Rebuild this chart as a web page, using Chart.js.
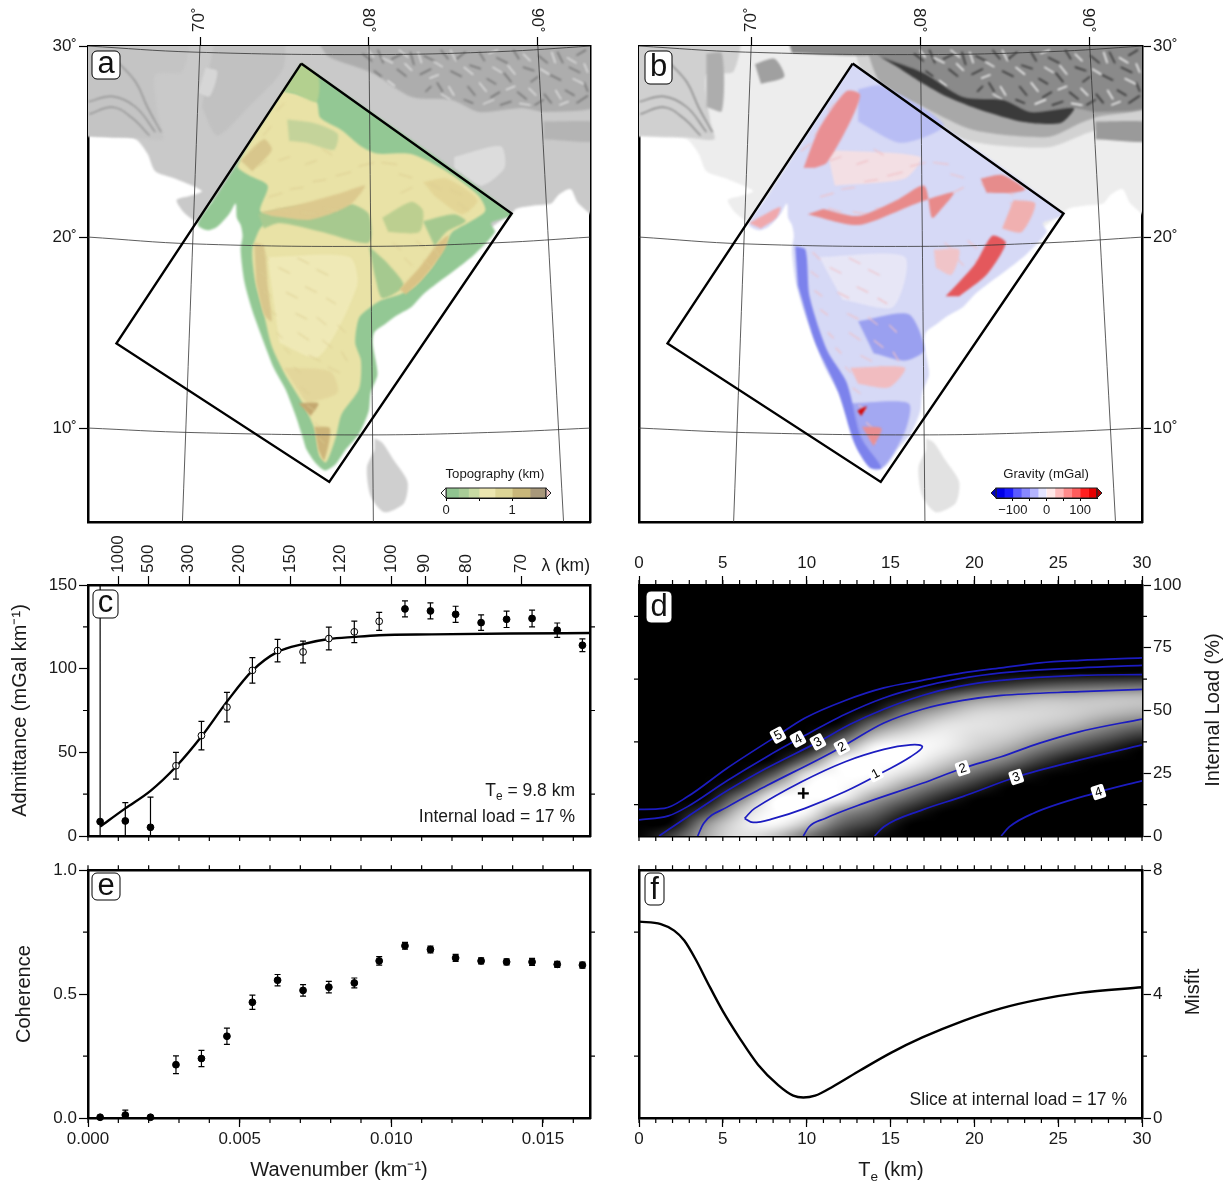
<!DOCTYPE html>
<html>
<head>
<meta charset="utf-8">
<title>India admittance</title>
<script src="https://cdn.jsdelivr.net/npm/chart.js@4"></script>
<style>
  html, body { margin: 0; background: #fff; }
  #page { position: relative; width: 1223px; height: 1186px; overflow: hidden; }
  canvas { position: absolute; }
</style>
</head>
<body>
<div id="page"></div>
<script>
// ---- spectra (panels c, e) ----
const wavenumber = [0.0004, 0.00123, 0.00206, 0.0029, 0.00374, 0.00458, 0.00542, 0.00625, 0.00709, 0.00794, 0.00878, 0.0096, 0.01045, 0.01129, 0.01212, 0.01296, 0.0138, 0.01464, 0.01547, 0.0163];
const admittance = [8.6, 9, 5.2, 42, 60, 77, 99, 110.8, 110, 118, 122, 128.3, 135.7, 134.5, 132.5, 127.5, 129.5, 130, 123, 114];
const admittanceErr = [200, 11, 18, 8, 8.5, 8.8, 7.6, 6.7, 6.5, 6.8, 6.4, 5.4, 4.8, 4.8, 4.8, 4.6, 4.9, 5, 4.3, 3.8];
const isFitted = [0, 0, 0, 1, 1, 1, 1, 1, 1, 1, 1, 1, 0, 0, 0, 0, 0, 0, 0, 0];
const coherence = [0.003, 0.012, 0.003, 0.215, 0.24, 0.33, 0.467, 0.556, 0.515, 0.528, 0.545, 0.634, 0.695, 0.68, 0.646, 0.634, 0.63, 0.63, 0.62, 0.617];
const coherenceErr = [0, 0.02, 0, 0.036, 0.033, 0.033, 0.029, 0.023, 0.023, 0.023, 0.02, 0.017, 0.014, 0.014, 0.014, 0.012, 0.012, 0.014, 0.012, 0.012];
const fitK = [0.0004, 0.00123, 0.00206, 0.0029, 0.00374, 0.00458, 0.00542, 0.00625, 0.00709, 0.00794, 0.00878, 0.0096, 0.01134, 0.01394, 0.0167];
const fitAdm = [5.6, 16.5, 27, 41.4, 59.4, 80.3, 98.8, 110, 114.7, 117.7, 119, 120, 120.5, 121, 121.3];
const lambdaTicks = [1000, 500, 300, 200, 150, 120, 100, 90, 80, 70];

// ---- misfit (panels d, f) ----
const gridTe = [0, 2, 4, 6, 8, 10, 12, 14, 16, 18, 20, 22, 24, 26, 28, 30];
const gridLoad = [0, 5, 10, 15, 20, 25, 30, 35, 40, 45, 50, 55, 60, 65, 70];
// one column per gridTe, one value per gridLoad
const misfitGrid = [
  [3.5, 4, 5, 6, 6, 6, 6, 6, 6, 6, 6, 6, 6, 6, 6],
  [2.6, 3.2, 4.3, 5, 6, 6, 6, 6, 6, 6, 6, 6, 6, 6, 6],
  [1.8, 2, 2.67, 3.6, 4.8, 6, 6, 6, 6, 6, 6, 6, 6, 6, 6],
  [1.4, 1.4, 1.6, 2.15, 2.85, 3.8, 5, 6, 6, 6, 6, 6, 6, 6, 6],
  [1.6, 1.1, 0.8, 1.1, 1.8, 2.55, 3.3, 4.3, 6, 6, 6, 6, 6, 6, 6],
  [2.2, 1.6, 1.05, 0.7, 0.8, 1.4, 2.3, 3, 3.85, 4.7, 6, 6, 6, 6, 6],
  [2.7, 2.35, 1.95, 1.25, 0.85, 0.75, 1.15, 1.95, 2.6, 3.3, 4.2, 6, 6, 6, 6],
  [3, 2.65, 2.3, 1.9, 1.4, 0.95, 0.9, 1.15, 1.7, 2.3, 3, 4, 6, 6, 6],
  [3.6, 3.25, 2.8, 2.35, 1.9, 1.45, 1.05, 1.05, 1.4, 1.8, 2.25, 2.95, 4.5, 6, 6],
  [4, 3.6, 3.25, 2.8, 2.35, 1.85, 1.5, 1.3, 1.3, 1.45, 1.85, 2.4, 3.4, 6, 6],
  [4.2, 4, 3.6, 3.2, 2.75, 2.3, 1.85, 1.55, 1.45, 1.4, 1.55, 2, 2.85, 4.6, 6],
  [4.1, 3.85, 3.65, 3.35, 3.1, 2.7, 2.2, 1.8, 1.55, 1.45, 1.5, 1.85, 2.65, 4, 6],
  [4.6, 4.4, 4.05, 3.75, 3.4, 3.05, 2.65, 2.2, 1.8, 1.55, 1.5, 1.7, 2.5, 3.7, 6],
  [5, 4.7, 4.3, 4, 3.65, 3.3, 3, 2.55, 2.1, 1.7, 1.55, 1.7, 2.4, 3.3, 5],
  [5.2, 5, 4.6, 4.25, 3.95, 3.55, 3.2, 2.85, 2.4, 2, 1.65, 1.65, 2.35, 3.2, 5],
  [5.4, 5.2, 4.8, 4.5, 4.2, 3.8, 3.45, 3.1, 2.7, 2.2, 1.75, 1.65, 2.3, 3.1, 4.8]
];
const contour1 = [[6.3, 7], [6.9, 11], [9.7, 21.6], [12.3, 29.6], [14.6, 34.5], [16.2, 36.3], [16.9, 35.6], [16.2, 31.6], [14.6, 25.6], [12.3, 17.7], [9.9, 11], [8.05, 7], [6.8, 5.4], [6.3, 7]];
const contour2Upper = [[3.5, 0], [3.85, 5], [5.25, 11.5], [7.6, 20], [10.7, 30.5], [12.1, 35.5], [14.6, 45], [16.9, 50.5], [19.3, 54], [21.6, 56], [26.3, 57.5], [30, 58.4]];
const contour2Lower = [[9.8, 0], [10.15, 3.7], [11.1, 7], [13.4, 13], [16.9, 21], [19.3, 27], [21.6, 31.6], [23.9, 37], [26.3, 41.6], [30, 46.6]];
const contour3Upper = [[1.2, 0], [2.9, 7.7], [5.25, 18], [7.6, 27], [10.7, 37.5], [12.6, 44.5], [14.6, 50.5], [16.9, 56], [19, 59.5], [21.6, 62], [26.3, 64], [30, 64.3]];
const contour3Lower = [[14.05, 0], [14.6, 3.7], [16.9, 10.4], [19.3, 15.7], [22.5, 23.5], [26.3, 30.3], [30, 36.3]];
const contour4Upper = [[0, 6.4], [1.75, 8], [2.9, 11.7], [5.25, 22], [7.6, 31.5], [9.5, 38.6], [12.3, 48.5], [14.6, 55], [16.9, 59.5], [19, 62.5], [21.6, 65], [26.3, 67], [30, 68]];
const contour4Lower = [[21.6, 0], [22.1, 3.7], [23.5, 9], [27.4, 17.5], [30, 22]];
const contour5 = [[0, 10.6], [1.5, 11], [2.9, 15.7], [5.25, 27], [8.3, 40.2], [9.9, 47], [12.3, 54], [14.6, 59], [16.9, 62], [19.3, 65], [21.6, 67], [23.9, 69], [26.3, 70], [30, 71]];
const contourLabels = [
  { te: 8.29, load: 40.2, text: '5', angle: 28 }, { te: 9.48, load: 38.6, text: '4', angle: 28 },
  { te: 10.67, load: 37.5, text: '3', angle: 28 }, { te: 12.1, load: 35.5, text: '2', angle: 28 },
  { te: 14.1, load: 24.8, text: '1', angle: 28 }, { te: 19.3, load: 27, text: '2', angle: 18 },
  { te: 22.5, load: 23.5, text: '3', angle: 18 }, { te: 27.4, load: 17.5, text: '4', angle: 18 }
];
const sliceTe = [0, 1.3, 2.1, 2.7, 3.4, 4.1, 5, 6, 7.1, 8.3, 9.2, 9.8, 10.5, 11.55, 13.2, 15.05, 16.9, 19.3, 21.6, 23.9, 26.3, 30];
const sliceMisfit = [6.34, 6.26, 6.05, 5.73, 5.1, 4.36, 3.45, 2.58, 1.72, 1.06, 0.72, 0.66, 0.72, 1.01, 1.54, 2.11, 2.6, 3.13, 3.54, 3.83, 4.04, 4.22];

// ---- map lines, lon/lat ----
const studyBox = [[76.19, 29.08], [87.21, 21.23], [77.66, 7.18], [66.52, 14.43], [76.19, 29.08]];
const parallels = [
  [[65, 30], [70.58, 29.68], [79.73, 29.55], [86.44, 29.7], [91.4, 30]],
  [[65, 20], [70.58, 19.64], [79.73, 19.51], [86.44, 19.7], [91.4, 20]],
  [[65, 10], [70.58, 9.76], [79.73, 9.64], [86.44, 9.78], [91.4, 10]]
];
const meridians = [
  [[70.89, 30], [69.97, 5]], [[79.74, 30], [79.97, 5]], [[88.58, 30], [89.93, 5]]
];
const landOutline = [[64, 31], [92, 31], [92, 20.91], [90.7, 21.76], [90.3, 22.5], [89.69, 22.22], [89.28, 21.76], [88.47, 21.66], [87.45, 21.48], [87.21, 21.23], [80.75, 17.46], [74.65, 23.06], [71.4, 21.76], [70.89, 20.73], [70.38, 21.01], [69.97, 21.38], [69.67, 21.94], [70.28, 22.13], [70.99, 22.41], [69.57, 23.06], [68.55, 23.44], [68.14, 24.37], [67.53, 25.12], [66.52, 25.21], [64, 25.31]];
const sriLanka = [[80.03, 9.46], [80.44, 9.23], [81.05, 8.3], [81.76, 7.18], [81.56, 6.05], [80.54, 5.59], [79.83, 6.43], [79.63, 7.92], [80.03, 8.86]];
const himalaya = [[77.2, 31], [92, 31], [92, 27], [89, 26.54], [87.75, 26.75], [85.5, 26.54], [84.09, 27.17], [81.99, 27.33], [79.9, 28.59], [77.65, 29.42], [77.2, 30]];
const westRanges = [[64, 31], [70.18, 31], [69.97, 28.67], [68.55, 28.48], [68.75, 26.05], [68.96, 25.12], [67.53, 25.21], [64, 25.31]];
const westTrough = [[68.55, 29.6], [69.36, 29.6], [69.36, 26.6], [68.55, 26.8]];
const shillong = [[88.88, 26.05], [92, 25.96], [92, 25.03], [88.88, 25.12]];
const assamPale = [[84.2, 24.19], [86.64, 24.75], [86.84, 23.62], [85.62, 22.69], [84.2, 23.62]];
const tharPale = [[71.19, 28.86], [71.8, 28.67], [71.4, 27.36], [70.79, 27.55]];
const punjabPlain = [[71.8, 31], [75.05, 31], [75.26, 28.86], [73.43, 26.8], [71.8, 25.31], [70.99, 26.8]];
const foldArcs = [
  [[65.05, 27.08], [66.3, 27.36], [67.53, 26.8], [68.55, 25.49]],
  [[65.1, 26.43], [66.3, 26.8], [67.33, 26.24], [68.25, 25.31]],
  [[66.52, 29.23], [67.53, 28.11], [68.14, 26.8], [68.86, 25.49]]
];
// short ridge marks on the high ground, lon1 lat1 lon2 lat2
const ridgeDark = [[79.4,29.6,79.9,29.2],[80.2,29.8,80.5,29.1],[80.9,29.3,81.5,29.6],[81.2,28.8,81.7,28.4],[81.9,29.7,82.1,29],[82.4,28.5,83,28.8],[82.6,29.5,83.2,29.2],[83.3,28.1,83.6,27.6],[83.5,29.8,83.9,29.3],[84,28.7,84.6,28.4],[84.3,29.3,84.8,29.7],[84.9,27.9,85.3,27.4],[85,29,85.6,28.8],[85.5,29.7,85.8,29.2],[85.9,28.3,86.4,28],[86.1,27.3,86.6,27.6],[86.4,29.4,87,29.1],[86.8,28.6,87.2,28.1],[87.3,29.8,87.6,29.3],[87.5,27.6,88,27.2],[87.8,28.9,88.4,28.7],[88.2,28.1,88.6,28.4],[88.6,29.5,89.1,29.1],[88.9,27.5,89.3,27],[89.2,28.5,89.8,28.2],[89.6,29.7,89.9,29.1],[90,27.7,90.5,27.4],[90.2,28.9,90.8,28.6],[90.6,29.5,91.1,29.8],[91,28.1,91.2,27.6],[83,27.9,82.7,27.6],[84.7,27.2,85.2,27],[86.6,26.9,87.2,27.1],[88.4,26.9,88.9,27.2],[90.6,27,91.2,27.4],[80,28.7,80.4,28.4]];
const ridgeLight = [[79.7,29.8,80,29.4],[80.4,29.4,81,29.1],[81.6,29.1,82,28.7],[81.3,29.8,81.8,29.4],[82.3,29.7,82.5,29.1],[82.9,28.3,83.4,28.5],[83.1,29.2,83.6,28.9],[83.9,27.9,84.2,27.4],[84,29.8,84.3,29.2],[84.7,28.9,85.2,28.5],[85.5,28.1,85.9,27.6],[86,29.6,86.5,29.8],[86.2,28.9,86.7,28.6],[86.9,27.7,87.4,27.9],[87,29,87.4,28.5],[87.8,29.6,88.2,29.2],[88.1,27.8,88.5,27.4],[88.7,28.8,89.2,28.5],[89.3,29.7,89.5,29.1],[89.5,27.7,89.8,27.2],[90.1,29.4,90.6,29.1],[90.4,28.3,91,28],[91,29.1,91.2,28.6],[85.7,26.95,86.3,27.2],[87.6,27,88.2,26.9],[89.7,26.9,90.2,27.1],[80.7,28.2,81.1,27.9],[83.5,27.5,84,27.2]];
// relief marks inside the study box
const reliefMarks = [[74.1,19.2,74.5,18.8],[74,18.2,74.4,17.9],[74.2,17.2,74.6,16.9],[74.5,16.2,74.9,15.9],[74.9,15,75.2,14.7],[75.3,14.2,75.6,13.9],[75.8,13.2,76.1,12.9],[76.2,12.1,76.6,11.8],[76.5,11.2,76.9,10.9],[76.9,10.3,77.2,10],[77.1,9.5,77.4,9.2],[75,18.4,75.6,18.1],[76,18.9,76.6,18.6],[77,18.3,77.6,18],[75.4,17.1,76,16.8],[76.4,17.4,77,17.1],[77.5,16.8,78,16.5],[75.9,16,76.5,15.7],[77,15.8,77.5,15.4],[76,15,76.6,14.6],[77.3,14.6,77.8,14.2],[78.1,15.4,78.5,15],[78.3,14,78.6,13.5],[76.6,13.8,77.2,13.5],[77.6,13.2,78.2,12.9],[74.5,22.1,75.2,22.3],[75.6,22.5,76.3,22.6],[76.8,22.9,77.5,23],[78,23.2,78.8,23.4],[79.2,23.7,80,23.9],[80.4,23.9,81.2,23.8],[74.9,21.5,75.6,21.3],[76.2,21.3,77,21.2],[77.4,21.5,78.1,21.4],[81,19.7,81.4,19.3],[81.6,18.9,82,18.5],[82.2,19.8,82.7,19.4],[82.6,18.8,83,18.4],[83.1,19.5,83.4,19],[81.4,22.3,82,22.6],[81.3,23.3,82,23.1],[82.9,22.8,83.5,22.5],[84,22.5,84.6,22.2],[84.4,21.8,84.9,21.4],[73.5,24.5,74,24.9],[74.2,25.3,74.6,25.8],[74.9,26.6,75.3,27],[73.9,23.7,74.4,24],[75,24,75.6,24.2],[76.4,23.8,77,24],[77.3,24.6,77.8,24.3]];

// panel a: topography patches, outer first
const indiaOutline = [[76.19, 29.08], [87.21, 21.23], [86.13, 20.73], [86.33, 20.26], [85.32, 19.14], [84.4, 18.39], [83.39, 17.64], [82.57, 16.99], [81.96, 16.34], [81.15, 15.87], [80.64, 15.49], [80.03, 15.03], [79.93, 14.47], [80.09, 13.53], [80.18, 12.78], [79.83, 11.85], [79.73, 10.91], [79.22, 9.7], [78.51, 8.86], [78, 8.11], [77.45, 7.77], [76.99, 8.11], [76.48, 8.86], [76.27, 9.51], [75.87, 10.73], [75.36, 12.04], [74.75, 13.16], [74.24, 14.47], [73.63, 16.15], [73.22, 17.64], [73.02, 19.33], [73.12, 20.07], [73.02, 20.63], [72.82, 21.01], [72.76, 21.76], [72.41, 21.19], [71.8, 20.54], [71.29, 20.35], [70.79, 20.6], [70.99, 21.1], [71.8, 22.22]];
const uplandYellow = [[75.87, 27.51], [76.99, 27.08], [77.19, 26.24], [78.31, 25.59], [79.32, 24.75], [80.14, 24.37], [81.96, 24.34], [83.79, 23.44], [85.42, 22.22], [85.83, 21.38], [84.91, 20.73], [84.1, 20.26], [83.69, 19.51], [83.08, 18.48], [82.17, 17.46], [81.35, 16.99], [80.44, 16.71], [79.83, 16.34], [79.22, 15.77], [79.02, 14.47], [79.32, 13.53], [79.22, 12.04], [78.31, 10.73], [78, 9.51], [77.49, 8.2], [77.13, 8.58], [76.88, 9.98], [76.27, 11.29], [75.36, 12.78], [74.65, 14.28], [74.24, 15.96], [73.79, 17.64], [73.63, 19.33], [74.04, 20.45], [74.65, 21.01], [74.04, 21.38], [74.44, 22.69], [73.43, 23.25], [72.86, 23.72], [75.26, 27.64]];
const deccanPale = [[74.44, 18.95], [78.71, 18.95], [79.12, 17.46], [77.09, 13.72], [75.05, 14.47]];
const topTip = [[76.19, 29.08], [77.09, 28.39], [76.99, 27.08], [75.87, 27.51], [75.26, 27.64]];
const chambal = [[75.46, 26.15], [76.88, 25.96], [78.1, 25.4], [77.9, 24.56], [76.48, 24.93], [75.56, 25.03]];
const narmada = [[73.94, 21.2], [75.87, 21.57], [78.71, 21.76], [79.73, 21.2], [79.73, 19.7], [77.29, 20.26], [75.05, 20.73], [74.24, 20.45]];
const satpura = [[74.04, 21.29], [76.27, 21.76], [78.31, 22.32], [79.53, 22.69], [78.71, 21.66], [76.68, 20.91], [74.65, 21.1]];
const chhattisgarh = [[80.44, 21.01], [81.96, 21.85], [82.57, 21.38], [82.37, 20.26], [80.75, 20.26]];
const mahanadi = [[82.57, 20.82], [84.2, 21.19], [84.81, 20.82], [83.79, 20.26], [83.18, 19.51]];
const godavari = [[79.73, 19.51], [80.75, 18.58], [81.56, 17.46], [80.44, 16.8], [80.03, 18.02]];
const easternGhats = [[81.35, 17.27], [82.37, 18.39], [83.39, 19.7], [83.9, 20.07], [83.69, 19.33], [82.57, 17.83], [81.66, 16.99]];
const chotaNagpur = [[82.57, 22.88], [83.79, 23.06], [85.42, 21.94], [84.61, 21.19], [83.18, 22.13]];
const westernGhats = [[73.73, 19.7], [74.24, 19.51], [74.44, 17.46], [74.65, 15.59], [74.24, 15.96], [73.83, 17.64]];
const karnataka = [[75.26, 13.16], [77.7, 12.97], [78.1, 11.85], [76.48, 11.29]];
const nilgiri = [[76.07, 11.29], [77.09, 11.29], [76.68, 10.63]];
const cardamom = [[76.88, 10.07], [77.7, 9.98], [77.39, 8.3], [77.09, 8.86]];
const aravalli = [[73.02, 24], [74.24, 25.12], [74.65, 24.56], [73.63, 23.44]];

// panel b: gravity patches and grey surround
const himalayaFront = [[77.65, 29.42], [79.9, 28.59], [81.99, 27.33], [84.09, 27.17], [85.5, 26.54], [87.75, 26.75], [87.07, 25.97], [85.13, 26.02], [82.88, 26.65], [81.16, 27.33], [79.74, 28.12], [78.54, 28.9]];
const frontHalo = [[76.6, 31], [77.65, 28.06], [79.9, 26.8], [82.5, 25.6], [86.4, 25.24], [88.1, 25.97], [89, 26.3], [92, 27], [92, 31]];
const frontFade = [[75.9, 31], [77.2, 27.5], [79.6, 26.2], [82.4, 25], [86.4, 24.7], [88.6, 25.5], [92, 26.4], [92, 31]];
const sulaimanLow = [[71.09, 29.05], [72.11, 29.33], [72.62, 28.39], [71.4, 28.02]];
const topLow = [[72.62, 31], [77.9, 31], [77.7, 29.61], [73.02, 29.64]];
const westCoastLow = [[73.19, 19.51], [73.73, 19.33], [73.94, 16.9], [74.85, 14.09], [75.87, 12.41], [76.68, 9.42], [77.7, 7.92], [77.09, 7.92], [76.27, 9.23], [75.46, 11.85], [74.24, 14.47], [73.33, 17.46]];
const centralSouthLow = [[76.48, 15.59], [79.12, 15.96], [79.93, 14.09], [78.92, 13.53], [77.29, 13.91]];
const southTipLow = [[76.07, 11.29], [79.12, 11.29], [78.92, 9.79], [77.7, 7.92], [76.68, 9.05]];
const gangesLow = [[76.48, 27.74], [77.7, 27.92], [80.95, 25.87], [78.71, 24.93], [76.48, 26.05]];
const deccanNeutral = [[74.45, 18.95], [78.92, 18.95], [78.31, 16.34], [75.66, 16.71]];
const centralPale = [[74.85, 24.56], [79.73, 24.19], [78.92, 23.06], [75.26, 22.69]];
const aravalliHigh = [[73.63, 23.62], [74.45, 25.68], [75.87, 27.64], [76.58, 27.46], [76.07, 26.05], [74.85, 23.9], [74.24, 23.62]];
const vindhyanHigh = [[73.84, 21.19], [76.48, 20.63], [79.53, 21.76], [81.46, 22.32], [80.75, 21.38], [80.34, 21.01], [79.93, 22.69], [78.51, 21.94], [76.48, 21.1], [74.65, 21.47]];
const ghatsHigh = [[81.05, 16.9], [82.58, 18.58], [83.49, 20.07], [84.2, 19.7], [83.19, 18.02], [81.76, 16.9]];
const nagpurHigh = [[82.88, 23.06], [84, 23.25], [85.22, 22.5], [84.6, 22.32], [83.19, 22.32]];
const orissaPink = [[84.6, 21.94], [85.73, 21.76], [85.02, 20.26], [84, 20.45]];
const karnatakaPink = [[76.07, 13.16], [78.92, 13.16], [78.1, 12.13], [76.48, 12.32]];
const keralaPeak = [[76.44, 10.91], [76.93, 11.14], [76.64, 10.63]];
const tipPink = [[76.68, 10.07], [77.7, 9.98], [77.29, 9.05]];
const kutchPink = [[70.79, 20.73], [72.41, 21.57], [72.21, 21.01], [71.4, 20.45]];
const telanganaPink = [[80.44, 19.33], [81.76, 19.33], [81.36, 18.02], [80.54, 18.39]];

// colour bars: band edges in data units, one colour per band
const topoEdges = [0, 0.19, 0.34, 0.5, 0.74, 1, 1.27, 1.51];
const topoColors = ['#90c490', '#a9cc97', '#c8dba3', '#ece6b0', '#ddd596', '#c9b77a', '#a8987a'];
const gravEdges = [-150, -125, -100, -75, -50, -25, 0, 25, 50, 75, 100, 125, 150];
const gravColors = ['#0000e8', '#1a1aff', '#5a5aff', '#8888ff', '#b4b4ff', '#e4e4ff', '#ffe8e8', '#ffbcbc', '#ff8c8c', '#ff5c5c', '#ff2020', '#e80000'];

const FONT = '"Liberation Sans", Arial, sans-serif';
const INK = '#1a1a1a';
const TICK_FONT = { family: FONT, size: 17 };

function range(from, to, step) {
    const out = [];
    for (let i = 0; from + i * step <= to + step / 1000; i++) out.push(+(from + i * step).toFixed(6));
    return out;
}
function xy(list) { return list.map(p => ({ x: p[0], y: p[1] })); }
function zip(xs, ys) { return xs.map((x, i) => ({ x: x, y: ys[i] })); }
// segments become one line broken by gaps
function marks(list) {
    const out = [];
    list.forEach(s => { out.push({ x: s[0], y: s[1] }, { x: s[2], y: s[3] }, { x: NaN, y: NaN }); });
    return out;
}

// every scale gets a fixed box so the plot frames land where the figure has them
function axis(position, min, max, size, ticks, labels, extra) {
    const horizontal = position === 'top' || position === 'bottom';
    return Object.assign({
        type: 'linear', position, min, max,
        afterBuildTicks: s => { s.ticks = ticks.map(v => ({ value: v })); },
        afterFit: s => { if (horizontal) s.height = size; else s.width = size; },
        grid: { drawOnChartArea: false, tickLength: 9, tickColor: '#000', tickWidth: 1.2 },
        border: { color: '#000', width: 2.5 },
        ticks: { autoSkip: false, padding: 2, color: INK, font: TICK_FONT, maxRotation: 0, minRotation: 0, callback: (v, i) => labels[i] }
    }, extra || {});
}
function uprightTicks(labels, padding) {
    return { autoSkip: false, padding, color: INK, font: TICK_FONT, minRotation: 90, maxRotation: 90, labelOffset: 20, callback: (v, i) => labels[i] };
}

function richText(ctx, parts, x, y, align, rotation, size) {
    // parts: [text, 'sub' | 'sup' | undefined]
    ctx.save();
    ctx.translate(x, y);
    ctx.rotate((rotation || 0) * Math.PI / 180);
    ctx.fillStyle = INK;
    ctx.textBaseline = 'alphabetic';
    const widths = parts.map(p => {
        ctx.font = (p[1] ? size * 0.68 : size) + 'px ' + FONT;
        return ctx.measureText(p[0]).width;
    });
    const total = widths.reduce((a, b) => a + b, 0);
    let cx = align === 'right' ? -total : align === 'center' ? -total / 2 : 0;
    parts.forEach((p, i) => {
        ctx.font = (p[1] ? size * 0.68 : size) + 'px ' + FONT;
        ctx.textAlign = 'left';
        const dy = p[1] === 'sub' ? size * 0.25 : p[1] === 'sup' ? -size * 0.38 : 0;
        ctx.fillText(p[0], cx, dy);
        cx += widths[i];
    });
    ctx.restore();
}

// minor ticks, error bars, labels and the letter badge for one panel
function panelPlugin(cfg) {
    return {
        id: 'panel',
        beforeDatasetsDraw(chart) {
            const { ctx, chartArea: a, scales } = chart;
            if (cfg.background) {
                ctx.fillStyle = cfg.background;
                ctx.fillRect(a.left, a.top, a.width, a.height);
            }
            if (cfg.field) cfg.field(ctx, a, scales);
            if (cfg.blur) ctx.filter = 'blur(' + cfg.blur + 'px)';
        },
        beforeDatasetDraw(chart, args) {
            if (chart.data.datasets[args.index].sharp) chart.ctx.filter = 'none';
        },
        afterDatasetsDraw(chart) {
            const { ctx, chartArea: a, scales } = chart;
            ctx.filter = 'none';
            ctx.save();
            ctx.strokeStyle = '#000';
            ctx.lineWidth = 1.2;
            ctx.beginPath();
            (cfg.minorX || []).forEach(v => {
                const px = scales.x.getPixelForValue(v);
                if (cfg.minorTop !== false) { ctx.moveTo(px, a.top); ctx.lineTo(px, a.top - 5); }
                ctx.moveTo(px, a.bottom); ctx.lineTo(px, a.bottom + 5);
            });
            (cfg.minorY || []).forEach(v => {
                const py = scales.y.getPixelForValue(v);
                ctx.moveTo(a.left, py); ctx.lineTo(a.left - 5, py);
                ctx.moveTo(a.right, py); ctx.lineTo(a.right + 5, py);
            });
            ctx.stroke();
            ctx.restore();

            if (cfg.errors) {
                ctx.save();
                ctx.beginPath();
                ctx.rect(a.left, a.top, a.width, a.height);
                ctx.clip();
                ctx.strokeStyle = '#000';
                ctx.lineWidth = 1.2;
                ctx.beginPath();
                cfg.errors.x.forEach((k, i) => {
                    const e = cfg.errors.err[i];
                    if (!e) return;
                    const px = scales.x.getPixelForValue(k);
                    const lo = scales.y.getPixelForValue(cfg.errors.y[i] - e);
                    const hi = scales.y.getPixelForValue(cfg.errors.y[i] + e);
                    ctx.moveTo(px, lo); ctx.lineTo(px, hi);
                    ctx.moveTo(px - 3, lo); ctx.lineTo(px + 3, lo);
                    ctx.moveTo(px - 3, hi); ctx.lineTo(px + 3, hi);
                });
                ctx.stroke();
                ctx.restore();
            }
        },
        afterDraw(chart) {
            const { ctx, scales } = chart;
            if (cfg.over) cfg.over(ctx, scales);
            (cfg.notes || []).forEach(n => richText(ctx, n.parts, n.x, n.y, n.align, n.rotation, n.size || 17.5));
            if (cfg.badge) {
                const b = cfg.badge;
                ctx.save();
                ctx.beginPath();
                ctx.roundRect(b.x, b.y, b.w, b.h, 5);
                ctx.fillStyle = '#fff';
                ctx.fill();
                ctx.strokeStyle = '#000';
                ctx.lineWidth = 1;
                ctx.stroke();
                ctx.fillStyle = '#111';
                ctx.font = '31px ' + FONT;
                ctx.textAlign = 'center';
                ctx.textBaseline = 'alphabetic';
                ctx.fillText(b.text, b.x + b.w / 2, b.y + b.h - (b.drop || 6));
                ctx.restore();
            }
        }
    };
}

function makeChart(rect, config, cfg) {
    const canvas = document.createElement('canvas');
    canvas.width = rect.w;
    canvas.height = rect.h;
    canvas.style.left = rect.x + 'px';
    canvas.style.top = rect.y + 'px';
    document.getElementById('page').appendChild(canvas);
    config.options = Object.assign({
        responsive: false, animation: false, events: [],
        layout: { padding: 0 },
        plugins: { legend: { display: false }, tooltip: { enabled: false } }
    }, config.options);
    config.plugins = [panelPlugin(cfg || {})];
    return new Chart(canvas.getContext('2d'), config);
}

function patch(list, color) {
    return { data: xy(list), showLine: true, fill: 'shape', backgroundColor: color, borderWidth: 0, pointRadius: 0, tension: 0.25 };
}
function stroke(list, color, width, sharp) {
    return { data: xy(list), showLine: true, fill: false, borderColor: color, borderWidth: width, pointRadius: 0, sharp: !!sharp };
}
function markSet(list, color, width) {
    return { data: marks(list), showLine: true, spanGaps: false, fill: false, borderColor: color, borderWidth: width, pointRadius: 0 };
}
// later entries paint over earlier ones
function stacked(sets) {
    sets.forEach((d, i) => { d.order = -i; });
    return sets;
}

// ---- panels a and b ----
function mapScales(leftSize, rightSize, labelLeft, labelRight) {
    const latLabels = ['10\u02da', '20\u02da', '30\u02da'];
    return {
        x: axis('bottom', 65.03, 91.31, 18, [70, 80, 90], []),
        x2: axis('top', 63.37, 93.08, 46, [70, 80, 90], ['70\u02da', '', ''], { ticks: uprightTicks(['70\u02da', '', ''], 5) }),
        y: axis('left', 5.08, 30, leftSize, [10, 20, 30], labelLeft ? latLabels : []),
        y2: axis('right', 5.08, 30, rightSize, [10, 20, 30], labelRight ? latLabels : [])
    };
}
function graticule() {
    return parallels.concat(meridians).map(l => {
        const d = stroke(l, '#333', 0.8, true);
        d.tension = 0.4;
        return d;
    });
}
const boxLine = () => stroke(studyBox, '#000', 2.4, true);
const arcSets = (color) => foldArcs.map(l => { const d = stroke(l, color, 1.2); d.tension = 0.4; return d; });

const topoSets = stacked([
    patch(landOutline, '#c9c9c9'), patch(punjabPlain, '#c1c1c1'), patch(tharPale, '#d6d6d6'),
    patch(westRanges, '#c4c4c4'), patch(himalaya, '#adadad'), patch(shillong, '#b4b4b4'), patch(assamPale, '#dcdcdc')
].concat(arcSets('#8a8a8a'), [
    markSet(ridgeDark, '#6a6a6a', 1.3), markSet(ridgeLight, '#e8e8e8', 1.3),
    patch(sriLanka, '#cfcfcf'),
    patch(indiaOutline, '#93c894'), patch(uplandYellow, '#e9e2a6'), patch(deccanPale, '#efe9b6'),
    patch(topTip, '#b3d08f'), patch(chambal, '#c4d39a'), patch(narmada, '#a7c98f'), patch(satpura, '#dcc98e'),
    patch(chhattisgarh, '#bccf90'), patch(mahanadi, '#a5c98f'), patch(godavari, '#a5c98f'), patch(easternGhats, '#d9c285'),
    patch(chotaNagpur, '#e3d596'), patch(westernGhats, '#d8c68c'), patch(karnataka, '#e3d69b'), patch(nilgiri, '#c4a870'),
    patch(cardamom, '#cdb57a'), patch(aravalli, '#d8c68c'),
    markSet(reliefMarks, '#dccd92', 1)
], graticule(), [boxLine()]));

const gravSets = stacked([
    patch(landOutline, '#ededed'), patch(frontFade, '#d2d2d2'), patch(frontHalo, '#a8a8a8'), patch(himalaya, '#8a8a8a'),
    patch(westRanges, '#d0d0d0'), patch(westTrough, '#adadad'), patch(shillong, '#9a9a9a'), patch(topLow, '#8a8a8a'), patch(sulaimanLow, '#a0a0a0')
].concat(arcSets('#7a7a7a'), [
    markSet(ridgeDark, '#2a2a2a', 1.4), markSet(ridgeLight, '#ffffff', 1.4),
    patch(himalayaFront, '#3a3a3a'), patch(sriLanka, '#e2e2e2'),
    patch(indiaOutline, '#d6d9f6'), patch(gangesLow, '#b8bdf4'), patch(centralSouthLow, '#9aa0f0'), patch(southTipLow, '#a3a8f2'),
    patch(westCoastLow, '#7c82ec'), patch(deccanNeutral, '#e7e6f6'), patch(centralPale, '#f3dfe4'),
    markSet(reliefMarks, '#f0c0c6', 1.2),
    patch(aravalliHigh, '#e98f93'), patch(vindhyanHigh, '#e88a8a'), patch(ghatsHigh, '#e4585c'), patch(nagpurHigh, '#e68c8c'),
    patch(orissaPink, '#f0b0b0'), patch(karnatakaPink, '#f1bcc0'), patch(telanganaPink, '#f0c4c8'),
    patch(keralaPeak, '#d40a0a'), patch(tipPink, '#e98f93'), patch(kutchPink, '#f0a8ac')
], graticule(), [boxLine()]));

makeChart({ x: 0, y: 0, w: 612, h: 540 },
    { type: 'scatter', data: { datasets: topoSets }, options: { scales: mapScales(88, 22, true, false) } },
    {
        blur: 0.9, badge: { x: 92, y: 51, w: 28, h: 28, text: 'a', drop: 6 },
        notes: [
            { parts: [['80\u02da']], x: 363, y: 8, rotation: 90, size: 17 },
            { parts: [['90\u02da']], x: 532, y: 8, rotation: 90, size: 17 }
        ]
    });

makeChart({ x: 612, y: 0, w: 611, h: 540 },
    { type: 'scatter', data: { datasets: gravSets }, options: { scales: mapScales(27, 81, false, true) } },
    {
        blur: 0.9, badge: { x: 33, y: 51, w: 27, h: 33, text: 'b', drop: 8 },
        notes: [
            { parts: [['80\u02da']], x: 302, y: 8, rotation: 90, size: 17 },
            { parts: [['90\u02da']], x: 471, y: 8, rotation: 90, size: 17 }
        ]
    });

// colour bars sit on top of the maps
function colorBar(rect, edges, colors, ticks, labels, title, leftFill, rightFill) {
    const sets = colors.map((c, i) => ({ data: [[edges[i], edges[i + 1]]], backgroundColor: c, barPercentage: 1, categoryPercentage: 1, grouped: false }));
    makeChart(rect, {
        type: 'bar',
        data: { labels: ['band'], datasets: sets },
        options: {
            indexAxis: 'y',
            layout: { padding: { left: rect.left, right: rect.right, top: rect.top } },
            scales: {
                x: axis('bottom', edges[0], edges[edges.length - 1], rect.bottom, ticks, labels, {
                    grid: { drawOnChartArea: false, tickLength: 3, tickColor: '#000', tickWidth: 1 },
                    border: { color: '#000', width: 1 },
                    ticks: { autoSkip: false, padding: 2, color: INK, font: { family: FONT, size: 13 }, maxRotation: 0, callback: (v, i) => labels[i] }
                }),
                y: { display: false }
            }
        }
    }, {
        notes: [{ parts: [[title]], x: rect.left + rect.titleOffset, y: 16, align: 'center', size: 13.2 }],
        over(ctx, scales) {
            const x0 = scales.x.left, x1 = scales.x.right, y0 = scales.y.top, y1 = scales.y.bottom, ym = (y0 + y1) / 2;
            ctx.save();
            ctx.strokeStyle = '#222';
            ctx.lineWidth = 1;
            ctx.strokeRect(x0, y0, x1 - x0, y1 - y0);
            [[x0, -5, leftFill], [x1, 5, rightFill]].forEach(t => {
                ctx.beginPath();
                ctx.moveTo(t[0], y0); ctx.lineTo(t[0] + t[1], ym); ctx.lineTo(t[0], y1); ctx.closePath();
                ctx.fillStyle = t[2];
                ctx.fill();
                ctx.stroke();
            });
            ctx.restore();
        }
    });
}
colorBar({ x: 420, y: 462, w: 150, h: 58, left: 26, right: 24, top: 26, bottom: 22, titleOffset: 49 },
    topoEdges, topoColors, [0, 0.5, 1], ['0', '', '1'], 'Topography (km)', '#fff', '#f0c8c8');
colorBar({ x: 970, y: 462, w: 150, h: 58, left: 26, right: 23, top: 26, bottom: 22, titleOffset: 50 },
    gravEdges, gravColors, [-100, -50, 0, 50, 100], ['\u2212100', '', '0', '', '100'], 'Gravity (mGal)', '#0000c0', '#b00000');

// ---- panel c ----
const kMajor = [0, 0.005, 0.01, 0.015];
const kMinor = range(0, 0.016, 0.001);
makeChart({ x: 0, y: 530, w: 612, h: 328 }, {
    type: 'scatter',
    data: {
        datasets: stacked([
            { data: zip(fitK, fitAdm), showLine: true, borderColor: '#000', borderWidth: 2.4, pointRadius: 0, cubicInterpolationMode: 'monotone' },
            {
                data: zip(wavenumber, admittance), showLine: false, pointRadius: 3.4, borderColor: '#000', borderWidth: 1,
                backgroundColor: isFitted.map(f => f ? '#fff' : '#000')
            }
        ])
    },
    options: {
        scales: {
            x: axis('bottom', 0, 0.01655, 22, kMajor, []),
            x2: axis('top', 0, 0.01655, 55, lambdaTicks.map(l => 1 / l), lambdaTicks.map(String), { ticks: uprightTicks(lambdaTicks.map(String), 3) }),
            y: axis('left', 0, 150, 88, [0, 50, 100, 150], ['0', '50', '100', '150'], {
                title: { display: true, text: 'Admittance (mGal km\u207b\u00b9)', color: INK, font: { family: FONT, size: 20 }, padding: { top: 8, bottom: 2 } }
            }),
            y2: axis('right', 0, 150, 22, [0, 50, 100, 150], [])
        }
    }
}, {
    minorX: kMinor, minorTop: false, minorY: [25, 75, 125],
    errors: { x: wavenumber, y: admittance, err: admittanceErr },
    badge: { x: 93, y: 60, w: 25, h: 28, text: 'c', drop: 6 },
    notes: [
        { parts: [['\u03bb (km)']], x: 590, y: 41, align: 'right' },
        { parts: [['T'], ['e', 'sub'], [' = 9.8 km']], x: 575, y: 266, align: 'right' },
        { parts: [['Internal load = 17 %']], x: 575, y: 292, align: 'right' }
    ]
});

// ---- panel d ----
const teMajor = [0, 5, 10, 15, 20, 25, 30];
const teMinor = range(0, 30, 1);
function misfitField(ctx, a, scales) {
    const cols = gridTe.length, rows = gridLoad.length;
    const off = document.createElement('canvas');
    off.width = cols;
    off.height = rows;
    const octx = off.getContext('2d');
    const img = octx.createImageData(cols, rows);
    misfitGrid.forEach((column, c) => column.forEach((m, r) => {
        const g = Math.max(0, Math.min(255, 255 * (3.1 - m) / 1.9));
        const at = ((rows - 1 - r) * cols + c) * 4;
        img.data[at] = img.data[at + 1] = img.data[at + 2] = g;
        img.data[at + 3] = 255;
    }));
    octx.putImageData(img, 0, 0);
    const x0 = scales.x.getPixelForValue(gridTe[0] - 1), x1 = scales.x.getPixelForValue(gridTe[cols - 1] + 1);
    const y0 = scales.y.getPixelForValue(gridLoad[rows - 1] + 2.5), y1 = scales.y.getPixelForValue(gridLoad[0] - 2.5);
    ctx.save();
    ctx.beginPath();
    ctx.rect(a.left, a.top, a.width, a.height);
    ctx.clip();
    ctx.imageSmoothingEnabled = true;
    ctx.imageSmoothingQuality = 'high';
    ctx.drawImage(off, x0, y0, x1 - x0, y1 - y0);
    ctx.restore();
}
const contourSets = [contour2Upper, contour2Lower, contour3Upper, contour3Lower, contour4Upper, contour4Lower, contour5]
    .map(c => { const d = stroke(c, '#1c1cc0', 1.7); d.cubicInterpolationMode = 'monotone'; return d; });
const ellipseSet = stroke(contour1, '#1c1cc0', 1.7);
ellipseSet.tension = 0.4;
makeChart({ x: 612, y: 530, w: 611, h: 328 }, {
    type: 'scatter',
    data: {
        datasets: [{
            data: [{ x: 9.8, y: 17 }], showLine: false, pointStyle: 'cross', pointRadius: 5.5, borderColor: '#000', borderWidth: 2.4
        }, ellipseSet].concat(contourSets)
    },
    options: {
        scales: {
            x: axis('bottom', 0, 30, 22, teMajor, []),
            x2: axis('top', 0, 30, 55, teMajor, teMajor.map(String)),
            y: axis('left', 0, 100, 27, [0, 25, 50, 75, 100], []),
            y2: axis('right', 0, 100, 81, [0, 25, 50, 75, 100], ['0', '25', '50', '75', '100'])
        }
    }
}, {
    background: '#000', field: misfitField,
    minorX: teMinor, minorY: [12.5, 37.5, 62.5, 87.5],
    over(ctx, scales) {
        contourLabels.forEach(l => {
            ctx.save();
            ctx.translate(scales.x.getPixelForValue(l.te), scales.y.getPixelForValue(l.load));
            ctx.rotate(-l.angle * Math.PI / 180);
            ctx.beginPath();
            ctx.roundRect(-6.5, -7, 13, 14, 2);
            ctx.fillStyle = '#fff';
            ctx.fill();
            ctx.fillStyle = '#000';
            ctx.font = '13px ' + FONT;
            ctx.textAlign = 'center';
            ctx.textBaseline = 'middle';
            ctx.fillText(l.text, 0, 0.5);
            ctx.restore();
        });
    },
    badge: { x: 34, y: 61, w: 26, h: 32, text: 'd', drop: 7 },
    notes: [{ parts: [['Internal Load (%)']], x: 607, y: 180, align: 'center', rotation: -90, size: 20 }]
});

// ---- panel e ----
makeChart({ x: 0, y: 858, w: 612, h: 328 }, {
    type: 'scatter',
    data: { datasets: [{ data: zip(wavenumber, coherence), showLine: false, pointRadius: 3.4, backgroundColor: '#000', borderColor: '#000', clip: false }] },
    options: {
        scales: {
            x: axis('bottom', 0, 0.01655, 68, kMajor, ['0.000', '0.005', '0.010', '0.015'], {
                title: { display: true, text: 'Wavenumber (km\u207b\u00b9)', color: INK, font: { family: FONT, size: 20 }, padding: { top: 4, bottom: 4 } }
            }),
            x2: axis('top', 0, 0.01655, 10, kMajor, []),
            y: axis('left', 0, 1, 88, [0, 0.5, 1], ['0.0', '0.5', '1.0'], {
                title: { display: true, text: 'Coherence', color: INK, font: { family: FONT, size: 20 }, padding: { top: 12, bottom: 2 } }
            }),
            y2: axis('right', 0, 1, 22, [0, 0.5, 1], [])
        }
    }
}, {
    minorX: kMinor, minorY: [0.25, 0.75],
    errors: { x: wavenumber, y: coherence, err: coherenceErr },
    badge: { x: 92, y: 15, w: 28, h: 27, text: 'e', drop: 5 }
});

// ---- panel f ----
makeChart({ x: 612, y: 858, w: 611, h: 328 }, {
    type: 'scatter',
    data: { datasets: [{ data: zip(sliceTe, sliceMisfit), showLine: true, borderColor: '#000', borderWidth: 2.4, pointRadius: 0, cubicInterpolationMode: 'monotone' }] },
    options: {
        scales: {
            x: axis('bottom', 0, 30, 68, teMajor, teMajor.map(String)),
            x2: axis('top', 0, 30, 10, teMajor, []),
            y: axis('left', 0, 8, 27, [0, 4, 8], []),
            y2: axis('right', 0, 8, 81, [0, 4, 8], ['0', '4', '8'])
        }
    }
}, {
    minorX: teMinor, minorY: [2, 6],
    badge: { x: 33, y: 15, w: 19, h: 32, text: 'f', drop: 6 },
    notes: [
        { parts: [['Slice at internal load = 17 %']], x: 515, y: 247, align: 'right' },
        { parts: [['T'], ['e', 'sub'], [' (km)']], x: 279, y: 318, align: 'center', size: 20 },
        { parts: [['Misfit']], x: 587, y: 134, align: 'center', rotation: -90, size: 20 }
    ]
});
</script>
</body>
</html>
